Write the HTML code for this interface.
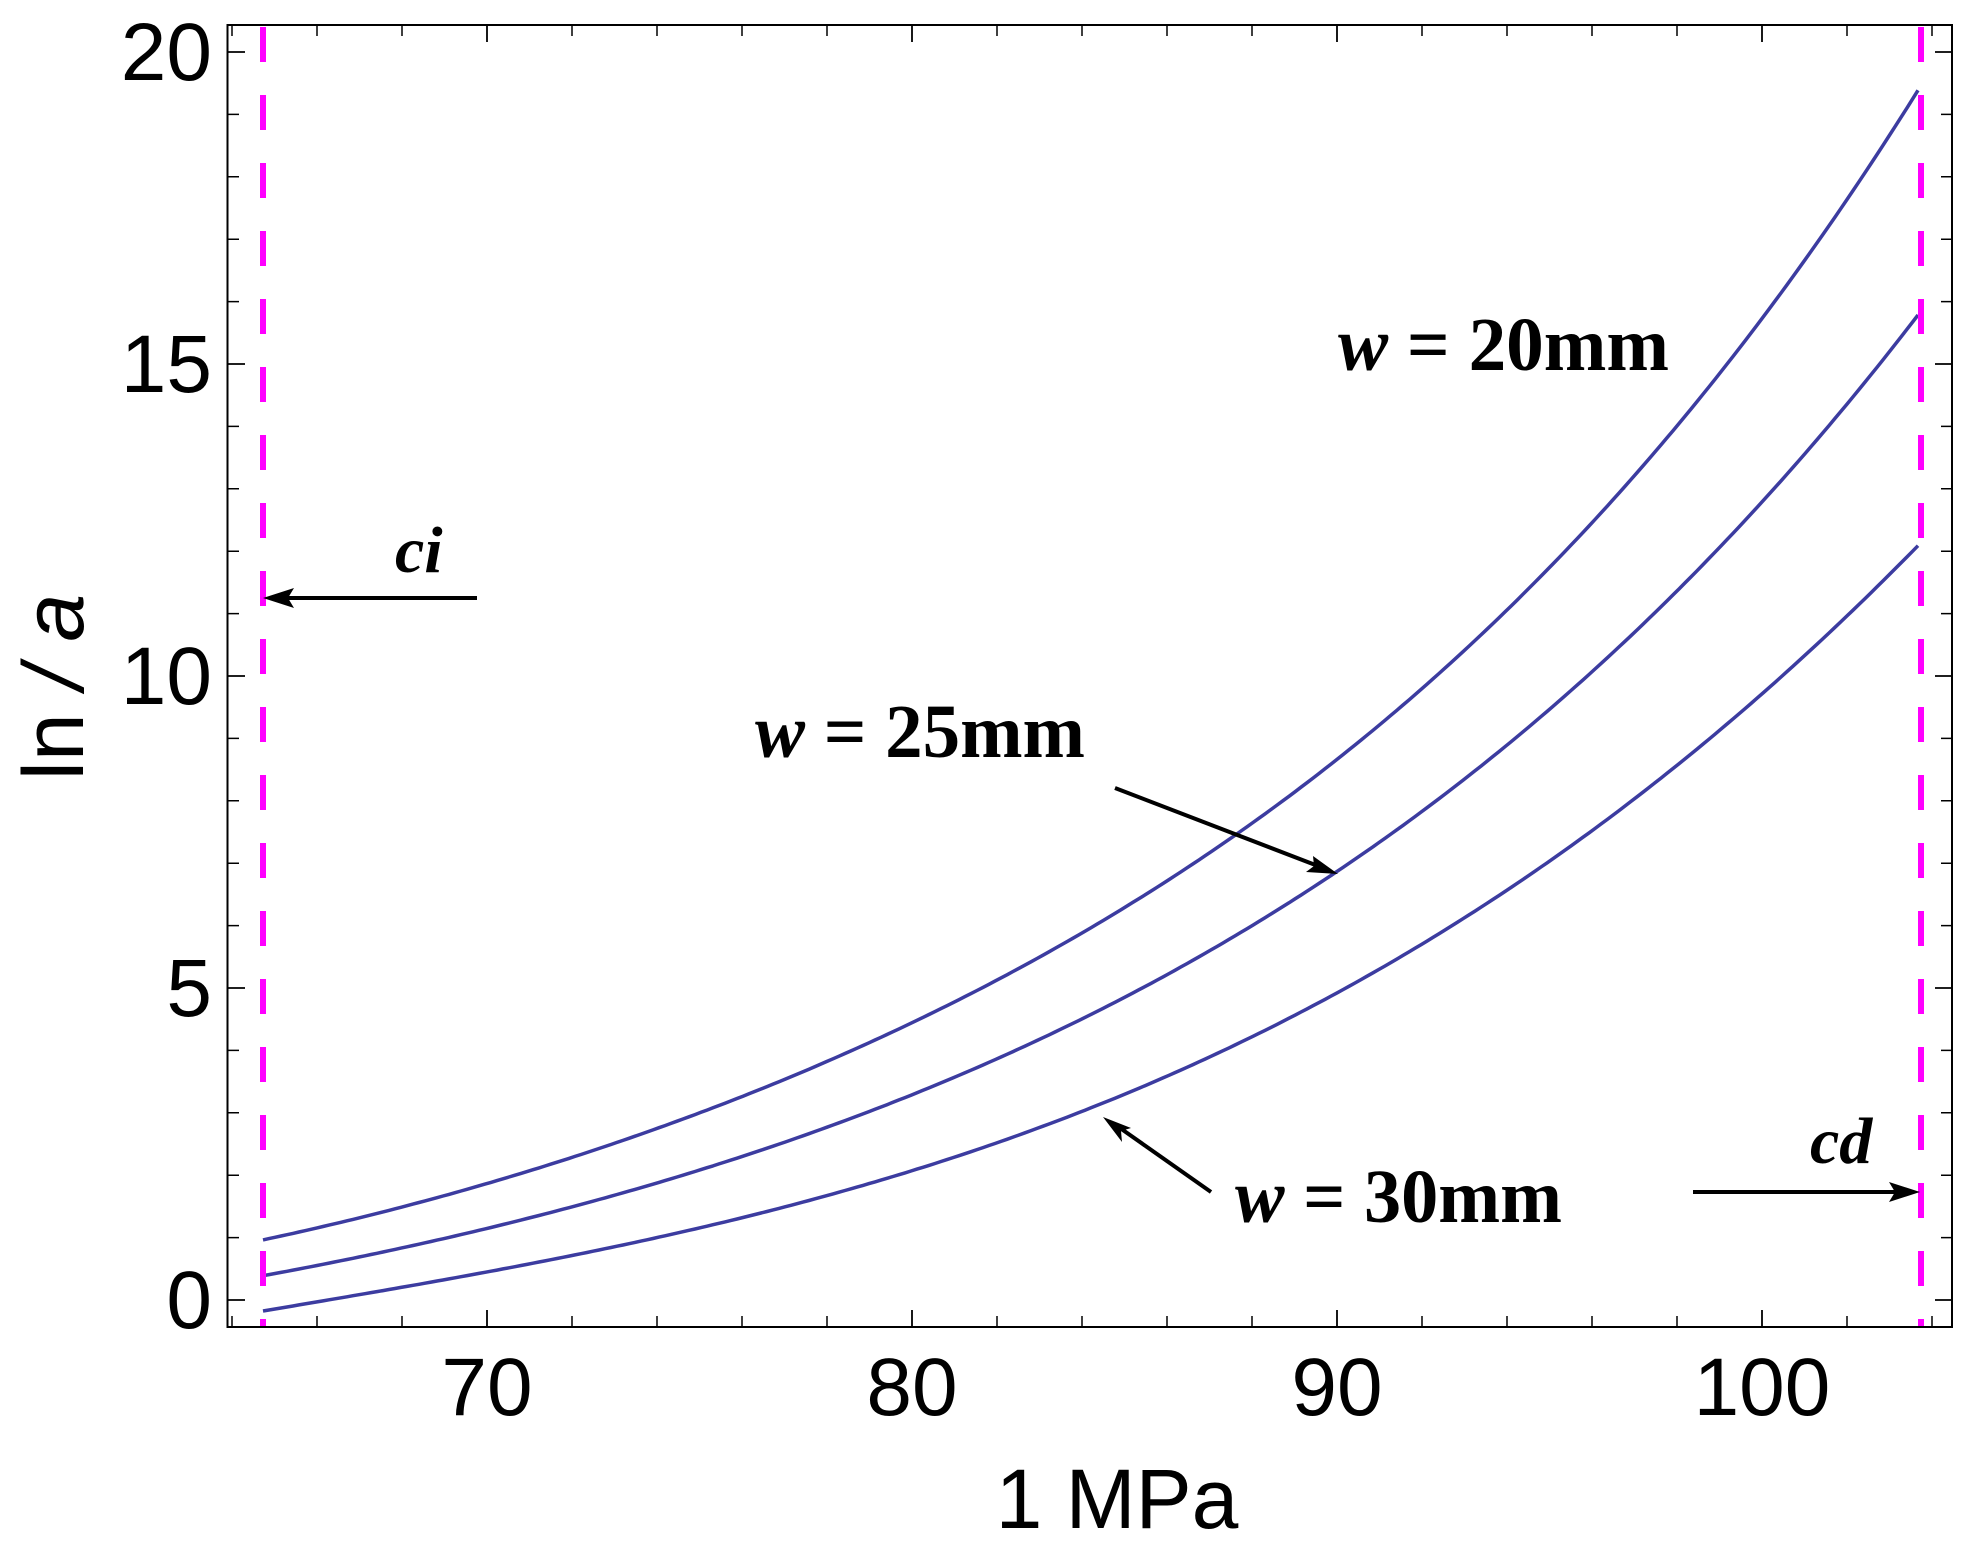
<!DOCTYPE html>
<html><head><meta charset="utf-8"><style>html,body{margin:0;padding:0;background:#fff}svg{display:block}</style></head>
<body>
<svg width="1984" height="1564" viewBox="0 0 1984 1564" xmlns="http://www.w3.org/2000/svg">
<rect width="1984" height="1564" fill="#fff"/>
<g fill="none" stroke="#3c3ca0" stroke-width="3.5" stroke-linejoin="round">
<path id="c1"/>
<path id="c2"/>
<path id="c3"/>
</g>
<g stroke="#ff00ff" stroke-width="6" stroke-dasharray="35,33" stroke-linecap="butt">
<line x1="263" y1="27" x2="263" y2="1327"/>
<line x1="1921" y1="27" x2="1921" y2="1327"/>
</g>
<rect x="227.5" y="25" width="1724.5" height="1302" fill="none" stroke="#000" stroke-width="2"/>
<g stroke="#000" stroke-width="1.8">
<line x1="228" y1="52" x2="245" y2="52"/><line x1="228" y1="364" x2="245" y2="364"/><line x1="228" y1="676" x2="245" y2="676"/><line x1="228" y1="988" x2="245" y2="988"/><line x1="228" y1="1300" x2="245" y2="1300"/>
<line x1="1952" y1="52" x2="1935" y2="52"/><line x1="1952" y1="364" x2="1935" y2="364"/><line x1="1952" y1="676" x2="1935" y2="676"/><line x1="1952" y1="988" x2="1935" y2="988"/><line x1="1952" y1="1300" x2="1935" y2="1300"/>
</g>
<g stroke="#000" stroke-width="1.5">
<path d="M228,114.4h11M228,176.8h11M228,239.2h11M228,301.6h11M228,426.4h11M228,488.8h11M228,551.2h11M228,613.6h11M228,738.4h11M228,800.8h11M228,863.2h11M228,925.6h11M228,1050.4h11M228,1112.8h11M228,1175.2h11M228,1237.6h11"/>
<path d="M1952,114.4h-11M1952,176.8h-11M1952,239.2h-11M1952,301.6h-11M1952,426.4h-11M1952,488.8h-11M1952,551.2h-11M1952,613.6h-11M1952,738.4h-11M1952,800.8h-11M1952,863.2h-11M1952,925.6h-11M1952,1050.4h-11M1952,1112.8h-11M1952,1175.2h-11M1952,1237.6h-11"/>
<path d="M232,1327v-11M317,1327v-11M402,1327v-11M572,1327v-11M657,1327v-11M742,1327v-11M827,1327v-11M997,1327v-11M1082,1327v-11M1167,1327v-11M1252,1327v-11M1422,1327v-11M1507,1327v-11M1592,1327v-11M1677,1327v-11M1847,1327v-11M1932,1327v-11"/>
<path d="M232,25v11M317,25v11M402,25v11M572,25v11M657,25v11M742,25v11M827,25v11M997,25v11M1082,25v11M1167,25v11M1252,25v11M1422,25v11M1507,25v11M1592,25v11M1677,25v11M1847,25v11M1932,25v11"/>
<path d="M487,1327v-17M912,1327v-17M1337,1327v-17M1762,1327v-17M487,25v17M912,25v17M1337,25v17M1762,25v17" stroke-width="1.8"/>
</g>
<g font-family="Liberation Sans, Arial, sans-serif" font-size="82" fill="#000">
<g text-anchor="end">
<text x="212" y="80">20</text><text x="212" y="392">15</text><text x="212" y="704">10</text><text x="212" y="1016">5</text><text x="212" y="1328">0</text>
</g>
<g text-anchor="middle">
<text x="487" y="1415">70</text><text x="912" y="1415">80</text><text x="1337" y="1415">90</text><text x="1762" y="1415">100</text>
</g>
<text x="1117" y="1528" text-anchor="middle" font-size="84">1 MPa</text>
<text transform="translate(83,687) rotate(-90)" text-anchor="middle" font-size="86">ln <tspan font-style="italic">/ a</tspan></text>
</g>
<g font-family="Liberation Serif, Times New Roman, serif" font-weight="bold" fill="#000">
<text x="1338" y="370" font-size="76" textLength="331" lengthAdjust="spacingAndGlyphs"><tspan font-style="italic">w</tspan> = 20mm</text>
<text x="755" y="757" font-size="76" textLength="330" lengthAdjust="spacingAndGlyphs"><tspan font-style="italic">w</tspan> = 25mm</text>
<text x="1235" y="1222" font-size="76" textLength="327" lengthAdjust="spacingAndGlyphs"><tspan font-style="italic">w</tspan> = 30mm</text>
<text x="395" y="572" font-size="66" font-style="italic">ci</text>
<text x="1810" y="1163" font-size="66" font-style="italic">cd</text>
</g>
<g stroke="#000" stroke-width="4">
<line x1="477" y1="598" x2="285" y2="598"/>
<line x1="1693" y1="1192" x2="1898" y2="1192"/>
<line x1="1115" y1="788" x2="1318" y2="866"/>
<line x1="1211" y1="1192" x2="1120" y2="1128"/>
</g>
<g fill="#000">
<polygon points="263,598 294,588 288,598 294,608"/>
<polygon points="1920,1192 1889,1182 1895,1192 1889,1202"/>
<polygon points="1338,874 1306,872 1314,866 1313,856"/>
<polygon points="1103,1117 1122,1142 1121,1131 1131,1128"/>
</g>
</svg>
<script>
function fit(p,deg){
  var n=deg+1,A=[],b=[],i,j,k;
  for(i=0;i<n;i++){A.push(new Array(n).fill(0));b.push(0);}
  p.forEach(function(q){var t=(q[0]-1090)/830,pw=[];for(i=0;i<n;i++)pw.push(Math.pow(t,i));
    for(i=0;i<n;i++){b[i]+=pw[i]*q[1];for(j=0;j<n;j++)A[i][j]+=pw[i]*pw[j];}});
  for(i=0;i<n;i++){var m=i;for(k=i+1;k<n;k++)if(Math.abs(A[k][i])>Math.abs(A[m][i]))m=k;
    var tmp=A[i];A[i]=A[m];A[m]=tmp;tmp=b[i];b[i]=b[m];b[m]=tmp;
    for(k=i+1;k<n;k++){var f=A[k][i]/A[i][i];for(j=i;j<n;j++)A[k][j]-=f*A[i][j];b[k]-=f*b[i];}}
  var c=new Array(n).fill(0);
  for(i=n-1;i>=0;i--){var s=b[i];for(j=i+1;j<n;j++)s-=A[i][j]*c[j];c[i]=s/A[i][i];}
  return function(x){var t=(x-1090)/830,s=0;for(var i=0;i<n;i++)s+=c[i]*Math.pow(t,i);return s;};
}
function draw(id,p,x1,y1){
  var f=fit(p,4),off=y1-f(x1),d="";
  for(var x=263;x<=1918;x+=6){var xx=Math.min(x,1918);d+=(d?" L":"M")+xx+","+(f(xx)).toFixed(1);}
  d+=" L1918,"+f(1918).toFixed(1);
  document.getElementById(id).setAttribute("d",d);
}
draw("c1",[[263,1240],[422,1202],[566,1158],[738,1099],[939,1010],[1100,923],[1235,834],[1400,708],[1538,579],[1612,500],[1777,300],[1918,90],[1918,90]]);
draw("c2",[[263,1274],[422,1247],[726,1160],[939,1083],[1150,981],[1338,873],[1400,832],[1572,689],[1744,517],[1918,316],[1918,316]]);
draw("c3",[[263,1311],[263,1311],[537,1263],[738,1218],[910,1170],[1100,1107],[1400,956],[1572,844],[1744,710],[1830,634],[1918,545],[1918,545]]);
</script>
</body></html>
